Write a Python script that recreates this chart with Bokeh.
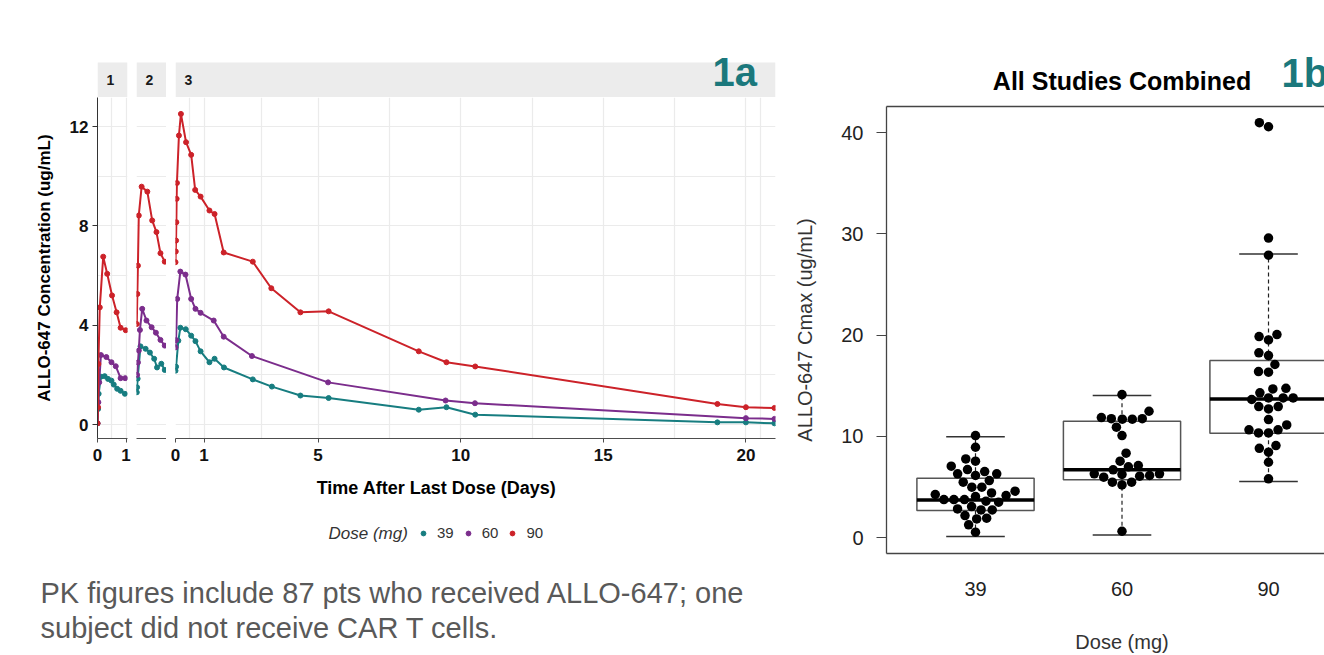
import math
from bokeh.plotting import figure
from bokeh.layouts import row, column
from bokeh.models import (Range1d, FixedTicker, Grid, LinearAxis, Label, Legend, LegendItem,
                          BoxAnnotation)
from bokeh.core.properties import value
from bokeh.embed import file_html
from bokeh.resources import INLINE

# ---------------- Panel 1a data (mean concentration-time profiles) ----------------
dose_labels = ["39", "60", "90"]
dose_colors = ["#177d80", "#7b2d8c", "#cc2229"]
facet_labels = ["1", "2", "3"]

# facet 1 (days after dose 1)
f1_t39 = [0.0, 0.02, 0.04, 0.12, 0.25, 0.37, 0.49, 0.57, 0.69, 0.81, 0.96]
f1_c39 = [0.05, 0.63, 1.24, 1.93, 1.95, 1.84, 1.77, 1.61, 1.44, 1.36, 1.24]
f1_t60 = [0.0, 0.03, 0.06, 0.12, 0.31, 0.49, 0.64, 0.81, 0.97]
f1_c60 = [0.05, 0.90, 1.70, 2.80, 2.72, 2.51, 2.35, 1.87, 1.87]
f1_t90 = [0.0, 0.02, 0.03, 0.08, 0.20, 0.34, 0.51, 0.67, 0.81, 0.99]
f1_c90 = [0.05, 0.70, 2.44, 4.72, 6.76, 6.07, 5.20, 4.52, 3.90, 3.80]

# facet 2
f2_t39 = [0.01, 0.02, 0.04, 0.14, 0.32, 0.47, 0.62, 0.72, 0.87, 0.99]
f2_c39 = [1.30, 1.50, 1.85, 3.15, 3.05, 2.90, 2.65, 2.30, 2.45, 2.20]
f2_t60 = [0.02, 0.05, 0.08, 0.12, 0.20, 0.35, 0.53, 0.68, 0.84, 0.99]
f2_c60 = [2.00, 2.50, 2.98, 3.81, 4.66, 4.19, 3.92, 3.70, 3.41, 3.18]
f2_t90 = [0.01, 0.03, 0.05, 0.08, 0.18, 0.38, 0.55, 0.70, 0.84, 0.99]
f2_c90 = [4.05, 5.26, 6.40, 8.42, 9.58, 9.38, 8.22, 7.75, 6.90, 6.56]

# facet 3
f3_t39 = [0.0, 0.02, 0.10, 0.17, 0.36, 0.55, 0.70, 0.88, 1.19, 1.37, 1.70, 2.71, 3.38,
          4.38, 5.37, 8.53, 9.50, 10.51, 19.0, 20.0, 21.0]
f3_c39 = [2.17, 2.33, 3.38, 3.90, 3.84, 3.58, 3.36, 2.95, 2.51, 2.65, 2.30, 1.82, 1.53,
          1.17, 1.07, 0.60, 0.70, 0.40, 0.09, 0.09, 0.05]
f3_t60 = [0.0, 0.02, 0.06, 0.17, 0.35, 0.55, 0.70, 0.88, 1.34, 1.69, 2.68, 5.35, 9.47,
          10.50, 20.0, 21.0]
f3_c60 = [3.11, 3.40, 5.06, 6.16, 6.04, 5.06, 4.66, 4.50, 4.19, 3.54, 2.76, 1.70, 0.97,
          0.86, 0.26, 0.23]
f3_t90 = [0.0, 0.01, 0.02, 0.03, 0.04, 0.05, 0.12, 0.19, 0.37, 0.55, 0.69, 0.88, 1.19,
          1.37, 1.69, 2.71, 3.36, 4.38, 5.37, 8.53, 9.50, 10.51, 19.0, 20.0, 21.0]
f3_c90 = [6.54, 6.97, 7.41, 8.15, 9.09, 9.73, 11.64, 12.51, 11.37, 10.86, 9.45, 9.18, 8.62,
          8.48, 6.93, 6.56, 5.49, 4.52, 4.56, 2.95, 2.51, 2.34, 0.83, 0.70, 0.67]

conc_ticks = [0, 4, 8, 12]
conc_grid = [0, 2, 4, 6, 8, 10, 12]
f1_ticks = [0, 1]
f1_grid = [0, 0.5, 1]
f3_ticks = [0, 1, 5, 10, 15, 20]
f3_grid = [0, 0.5, 1, 3, 5, 7.5, 10, 12.5, 15, 17.5, 20, 20.5]

# ---------------- Panel 1b data (Cmax by dose) ----------------
cmax_39 = [10.08, 8.92, 7.77, 7.54, 7.05, 6.72, 6.29, 6.52, 6.29, 6.13, 5.63, 5.47, 4.97,
           4.97, 4.25, 4.41, 4.58, 4.15, 3.75, 3.49, 3.59, 4.05, 3.75, 3.75, 2.73, 2.73,
           3.06, 2.83, 1.91, 1.84, 2.17, 1.25, 0.53]
cmax_60 = [14.13, 12.48, 11.70, 11.75, 11.85, 11.75, 11.70, 10.90, 10.08, 8.33, 7.54, 7.11,
           6.99, 6.69, 6.29, 6.06, 6.13, 6.23, 5.96, 6.29, 5.47, 5.20, 5.47, 0.62]
cmax_90 = [41.0, 40.6, 29.6, 27.9, 20.06, 19.53, 19.86, 17.98, 18.25, 17.1, 16.34, 16.40,
           14.75, 14.69, 14.30, 13.64, 13.80, 13.80, 13.80, 12.94, 12.71, 12.94, 11.66,
           10.64, 10.64, 10.34, 10.34, 11.13, 9.09, 8.43, 8.82, 7.44, 5.80]
box_lo = [0.10, 0.26, 5.53]
box_q1 = [2.67, 5.70, 10.31]
box_med = [3.72, 6.69, 13.70]
box_q3 = [5.85, 11.49, 17.49]
box_hi = [9.95, 14.03, 28.03]
cmax_ticks = [0, 10, 20, 30, 40]

FONT = "Liberation Sans"
TEAL = "#1b787c"
PXD = 28.52            # pixels per day in panel 1a
YR = (-0.56, 13.17)
STRIP_H = 97           # strip figures: page pixels 0..97, grey strip 62..97


def base_fig(w, h, xr, yr, bl, br, bt, bb, bg="white"):
    p = figure(width=w, height=h, x_range=xr, y_range=yr, x_axis_type=None, y_axis_type=None,
               title=None, toolbar_location=None, output_backend="svg",
               min_border_left=bl, min_border_right=br, min_border_top=bt, min_border_bottom=bb,
               background_fill_color=bg, border_fill_color="white", outline_line_color=None)
    return p


def make_facet(idx, frame_w, bl, br, xticks, xgrid, series, show_y):
    w = bl + frame_w + br
    xr = Range1d(0, frame_w / PXD)
    # strip (y in page pixels, downward)
    s = base_fig(w, STRIP_H, xr, Range1d(STRIP_H, 0), bl, br, 0, 0)
    s.add_layout(BoxAnnotation(top=62, bottom=STRIP_H, fill_color="#ececec", fill_alpha=1.0,
                               line_color=None, level="underlay"))
    s.text(x=[0], y=[79.5], text=[facet_labels[idx]], x_offset=9, text_baseline="middle",
           text_font=value(FONT), text_font_size="14px", text_font_style="bold",
           text_color="#1a1a1a")
    p = base_fig(w, 376, xr, Range1d(*YR), bl, br, 0, 35)
    p.add_layout(Grid(dimension=1, ticker=FixedTicker(ticks=conc_grid),
                      grid_line_color="#ebebeb", grid_line_width=1.2))
    if xgrid:
        p.add_layout(Grid(dimension=0, ticker=FixedTicker(ticks=xgrid),
                          grid_line_color="#ebebeb", grid_line_width=1.2))
    for (t, c), col in zip(series, dose_colors):
        p.line(t, c, line_color=col, line_width=2)
        p.scatter(t, c, size=5, fill_color=col, line_color=col)
    xa = LinearAxis(ticker=FixedTicker(ticks=xticks), axis_line_color="#4d4d4d",
                    major_tick_out=4, major_tick_in=0, major_tick_line_color="#4d4d4d",
                    minor_tick_line_color=None, major_label_text_font=FONT,
                    major_label_text_font_size="17px", major_label_text_font_style="bold",
                    major_label_text_color="#111111", major_label_standoff=6)
    p.add_layout(xa, "below")
    if show_y:
        ya = LinearAxis(ticker=FixedTicker(ticks=conc_ticks), axis_line_color="#333333",
                        major_tick_out=5, major_tick_in=0, major_tick_line_color="#333333",
                        minor_tick_line_color=None, major_label_text_font=FONT,
                        major_label_text_font_size="17px", major_label_text_font_style="bold",
                        major_label_text_color="#111111", major_label_standoff=4,
                        axis_label="ALLO-647 Concentration (ug/mL)", axis_label_text_font=FONT,
                        axis_label_text_font_size="17px", axis_label_text_font_style="bold",
                        axis_label_text_color="#000000", axis_label_standoff=13)
        p.add_layout(ya, "left")
    return s, p


sA, pA = make_facet(0, 30, 97, 5, f1_ticks, f1_grid,
                    [(f1_t39, f1_c39), (f1_t60, f1_c60), (f1_t90, f1_c90)], True)
sB, pB = make_facet(1, 30, 4, 0, [], [],
                    [(f2_t39, f2_c39), (f2_t60, f2_c60), (f2_t90, f2_c90)], False)
sC, pC = make_facet(2, 600, 9, 11, f3_ticks, f3_grid,
                    [(f3_t39, f3_c39), (f3_t60, f3_c60), (f3_t90, f3_c90)], False)
LEFT_W = 786

# "1a" tag over the strip of facet 3 (facet-3 frame starts at page x = 175)
sC.add_layout(Label(x=(712 - 175) / PXD, y=71, text="1a", text_align="left",
                    text_baseline="middle", text_font=FONT, text_font_size="40px",
                    text_font_style="bold", text_color=TEAL))

# bottom annotation area of panel 1a (page pixels 0..786 x 473..655)
TF_TOP = 473
tf = base_fig(LEFT_W, 655 - TF_TOP, Range1d(0, LEFT_W), Range1d(655, TF_TOP), 0, 0, 0, 0)
tf.add_layout(Label(x=436, y=487, text="Time After Last Dose (Days)", text_align="center",
                    text_baseline="middle", text_font=FONT, text_font_size="18px",
                    text_font_style="bold", text_color="#000000"))
tf.add_layout(Label(x=328, y=533, text="Dose (mg)", text_align="left", text_baseline="middle",
                    text_font=FONT, text_font_size="17px", text_font_style="italic",
                    text_color="#333333"))
items = []
for lab, col, (t, c) in zip(dose_labels, dose_colors,
                            [(f3_t39, f3_c39), (f3_t60, f3_c60), (f3_t90, f3_c90)]):
    r = tf.scatter(x=t, y=c, size=5, fill_color=col, line_color=col, visible=False)
    items.append(LegendItem(label=lab, renderers=[r]))
leg = Legend(items=items, orientation="horizontal", location=(417, 655 - 533 - 8), padding=0,
             margin=0, spacing=8, label_standoff=8, glyph_width=12, glyph_height=12,
             label_width=8, label_height=12, border_line_color=None, background_fill_alpha=0,
             label_text_font=FONT, label_text_font_size="15px", label_text_color="#333333")
tf.add_layout(leg, "center")
tf.add_layout(Label(x=40, y=592, text="PK figures include 87 pts who received ALLO-647; one",
                    text_align="left", text_baseline="alphabetic", text_font=FONT,
                    text_font_size="29px", text_color="#595959"))
tf.add_layout(Label(x=40, y=627, text="subject did not receive CAR T cells.",
                    text_align="left", text_baseline="alphabetic", text_font=FONT,
                    text_font_size="29px", text_color="#595959"))

# ---------------- Panel 1b ----------------
XR = (0.3925, 3.3822)
YR2 = (-1.58, 42.60)
PD_X0 = LEFT_W
FX0, FX1, FY0, FY1 = 886, 1324, 106, 553
HD_H = 98               # header strip (page y 0..98)
FT_TOP = 620            # footer strip (page y 620..655)
BL = FX0 - PD_X0
xr2 = Range1d(*XR)
pd = base_fig(FX1 - PD_X0, FT_TOP - HD_H, xr2, Range1d(*YR2), BL, 0, FY0 - HD_H, FT_TOP - FY1)
xpx = (FX1 - FX0) / (XR[1] - XR[0])
ypx = (FY1 - FY0) / (YR2[1] - YR2[0])


def swarm(vals, d):
    order = sorted(range(len(vals)), key=lambda i: vals[i])
    placed = []
    offs = [0.0] * len(vals)
    for i in order:
        y = vals[i] * ypx
        cands = [0.0]
        for a, b in placed:
            dy = abs(b - y)
            if dy < d:
                dx = math.sqrt(d * d - dy * dy)
                cands += [a - dx, a + dx]
        ok = [c for c in cands if all((c - a) ** 2 + (y - b) ** 2 >= d * d - 1e-6 for a, b in placed)]
        best = min(ok, key=lambda c: (abs(c), c))
        placed.append((best, y))
        offs[i] = best
    return offs


pos = [i + 1 for i in range(len(dose_labels))]
bw = 0.8
pd.quad(left=[p - bw / 2 for p in pos], right=[p + bw / 2 for p in pos], bottom=box_q1,
        top=box_q3, fill_color=None, line_color="#555555", line_width=1.5)
pd.segment(x0=pos, y0=box_q3, x1=pos, y1=box_hi, line_color="#222222", line_width=1.2,
           line_dash="4 3")
pd.segment(x0=pos, y0=box_q1, x1=pos, y1=box_lo, line_color="#222222", line_width=1.2,
           line_dash="4 3")
pd.segment(x0=[p - bw / 4 for p in pos], y0=box_hi, x1=[p + bw / 4 for p in pos], y1=box_hi,
           line_color="#333333", line_width=1.5)
pd.segment(x0=[p - bw / 4 for p in pos], y0=box_lo, x1=[p + bw / 4 for p in pos], y1=box_lo,
           line_color="#333333", line_width=1.5)
pd.segment(x0=[p - bw / 2 for p in pos], y0=box_med, x1=[p + bw / 2 for p in pos], y1=box_med,
           line_color="#000000", line_width=3.5)
for p_, vals in zip(pos, [cmax_39, cmax_60, cmax_90]):
    offs = swarm(vals, 10.0)
    pd.scatter(x=[p_ + o / xpx for o in offs], y=vals, size=9.5, fill_color="#000000",
               line_color=None)

ya2 = LinearAxis(ticker=FixedTicker(ticks=cmax_ticks), axis_line_color="#444444",
                 axis_line_width=1.3, major_tick_out=10, major_tick_in=0,
                 major_tick_line_color="#444444", minor_tick_line_color=None,
                 major_label_text_font=FONT, major_label_text_font_size="20px",
                 major_label_text_color="#222222", major_label_standoff=13,
                 axis_label="ALLO-647 Cmax (ug/mL)", axis_label_text_font=FONT,
                 axis_label_text_font_size="20px", axis_label_text_font_style="normal",
                 axis_label_text_color="#333333", axis_label_standoff=22)
pd.add_layout(ya2, "left")
xa2 = LinearAxis(ticker=FixedTicker(ticks=pos), axis_line_color="#444444", axis_line_width=1.3,
                 major_tick_out=0, major_tick_in=0, minor_tick_line_color=None,
                 major_label_overrides={p_: lab for p_, lab in zip(pos, dose_labels)},
                 major_label_text_font=FONT, major_label_text_font_size="20px",
                 major_label_text_color="#222222", major_label_standoff=28)
pd.add_layout(xa2, "below")
ta2 = LinearAxis(ticker=FixedTicker(ticks=[]), axis_line_color="#444444", axis_line_width=1.3,
                 major_tick_out=0, major_tick_in=0, minor_tick_line_color=None,
                 major_label_standoff=0, major_label_text_font_size="0px")
pd.add_layout(ta2, "above")

# header / footer share the box plot's x scale and left border; y in page pixels
mid = (pos[0] + pos[-1]) / 2
hd = base_fig(FX1 - PD_X0, HD_H, xr2, Range1d(HD_H, 0), BL, 0, 0, 0)
hd.add_layout(Label(x=mid, y=80, text="All Studies Combined", text_align="center",
                    text_baseline="middle", text_font=FONT, text_font_size="25px",
                    text_font_style="bold", text_color="#000000"))
hd.add_layout(Label(x=XR[0] + (1281 - FX0) / xpx, y=72, text="1b", text_align="left",
                    text_baseline="middle", text_font=FONT, text_font_size="40px",
                    text_font_style="bold", text_color=TEAL))

ft = base_fig(FX1 - PD_X0, 655 - FT_TOP, xr2, Range1d(655, FT_TOP), BL, 0, 0, 0)
ft.add_layout(Label(x=mid, y=641, text="Dose (mg)", text_align="center",
                    text_baseline="middle", text_font=FONT, text_font_size="20px",
                    text_color="#333333"))

left = column(row(sA, sB, sC), row(pA, pB, pC), tf)
right = column(hd, pd, ft)
layout = row(left, right)
open("out.html", "w").write(file_html(layout, INLINE))
